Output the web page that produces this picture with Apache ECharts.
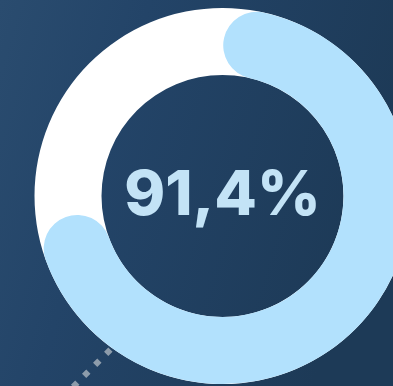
<!DOCTYPE html>
<html>
<head>
<meta charset="utf-8">
<style>
  html, body { margin: 0; padding: 0; background: #213f5d; }
  #chart { width: 393px; height: 386px; }
</style>
<script src="https://cdn.jsdelivr.net/npm/echarts@6/dist/echarts.min.js"></script>
</head>
<body>
<div id="chart"></div>
<script>
// Completion rate shown in the ring
const metricValues = [91.4];
const metricMax = 100;
const valueSuffix = '%';

const chart = echarts.init(document.getElementById('chart'), null, { renderer: 'canvas' });

const center = [222.5, 196];
const outerR = 188;
const ringWidth = 67;

// Sweep of the progress scale (clockwise, ECharts angle convention)
const sweepStart = 77.2;
const sweepEnd = -182.5;

const fmt = v => v.toFixed(1).replace('.', ',') + valueSuffix;

chart.setOption({
  backgroundColor: {
    type: 'linear', x: 0, y: 0, x2: 1, y2: 0.3,
    colorStops: [
      { offset: 0, color: '#2a4c6f' },
      { offset: 0.35, color: '#234468' },
      { offset: 1, color: '#1d3a57' }
    ]
  },
  graphic: [
    // dotted guide line behind the ring
    {
      type: 'line', z: 0,
      shape: { x1: 40, y1: 420, x2: 160, y2: 300 },
      style: { stroke: '#8d9cab', lineWidth: 6, lineDash: [6, 9.6], lineCap: 'butt' }
    }
  ],
  series: [
    {
      // full white track
      type: 'gauge',
      center: center, radius: outerR,
      startAngle: 90, endAngle: -270,
      min: 0, max: metricMax,
      silent: true,
      pointer: { show: false },
      axisLine: { lineStyle: { width: ringWidth, color: [[1, '#ffffff']] } },
      axisTick: { show: false }, splitLine: { show: false }, axisLabel: { show: false },
      detail: { show: false }, title: { show: false },
      data: [{ value: 0 }]
    },
    {
      type: 'gauge',
      center: center, radius: outerR,
      startAngle: sweepStart, endAngle: sweepEnd,
      min: 0, max: metricMax,
      pointer: { show: false },
      progress: { show: true, roundCap: true, width: ringWidth, itemStyle: { color: '#b2e1fd' } },
      axisLine: { show: false, lineStyle: { width: ringWidth } },
      axisTick: { show: false }, splitLine: { show: false }, axisLabel: { show: false },
      title: { show: false },
      detail: {
        offsetCenter: [0, 0],
        formatter: fmt,
        color: '#c3e3f6',
        fontFamily: 'Inter',
        fontWeight: 800,
        fontSize: 62
      },
      data: [{ value: metricValues[0] }]
    }
  ]
});
</script>
</body>
</html>
